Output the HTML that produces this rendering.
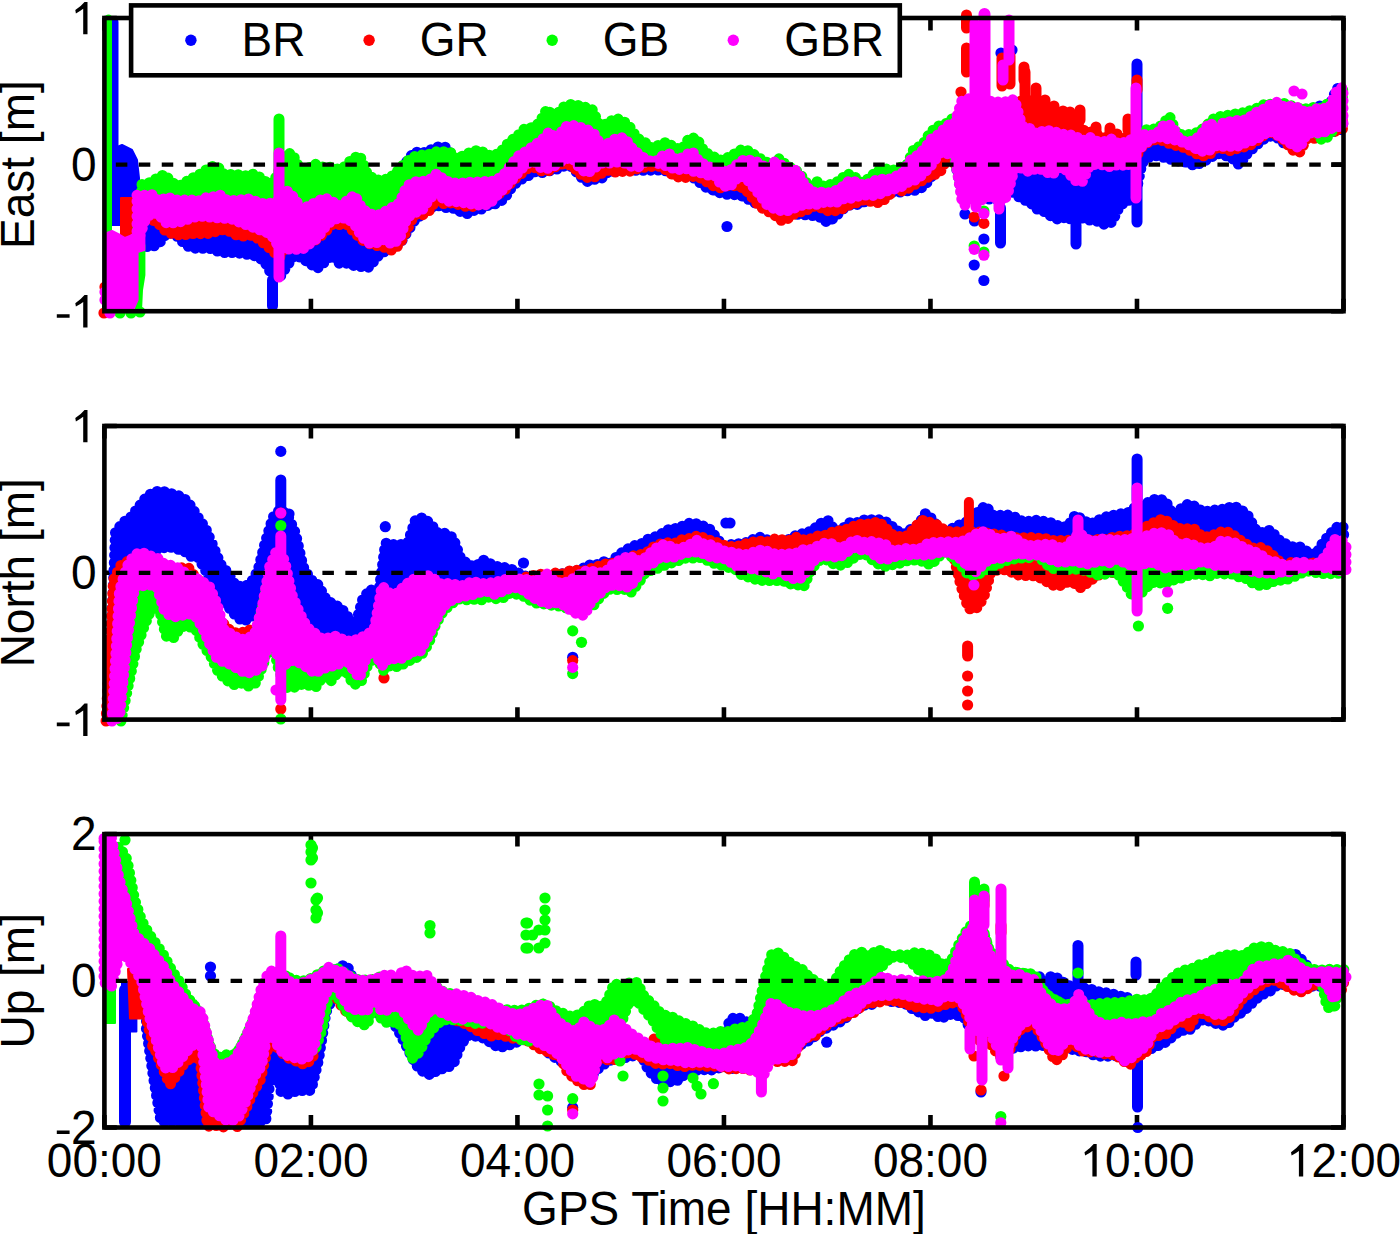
<!DOCTYPE html>
<html><head><meta charset="utf-8"><style>
html,body{margin:0;padding:0;background:#fff;overflow:hidden;width:1400px;height:1234px;}
svg{display:block;}
text{font-family:"Liberation Sans",sans-serif;font-size:46px;fill:#000;}
</style></head><body>
<svg width="1400" height="1234" viewBox="0 0 1400 1234">
<path d="M104.40 311.2V298.8M104.40 18.0V30.4M310.92 311.2V298.8M310.92 18.0V30.4M517.43 311.2V298.8M517.43 18.0V30.4M723.95 311.2V298.8M723.95 18.0V30.4M930.47 311.2V298.8M930.47 18.0V30.4M1136.98 311.2V298.8M1136.98 18.0V30.4M1343.50 311.2V298.8M1343.50 18.0V30.4M104.4 311.2H116.80000000000001M1343.5 311.2H1331.1M104.4 164.6H116.80000000000001M1343.5 164.6H1331.1M104.4 18.0H116.80000000000001M1343.5 18.0H1331.1" stroke="#000" stroke-width="4.6" fill="none"/>
<path d="M104.40 719.6V707.2M104.40 426.0V438.4M310.92 719.6V707.2M310.92 426.0V438.4M517.43 719.6V707.2M517.43 426.0V438.4M723.95 719.6V707.2M723.95 426.0V438.4M930.47 719.6V707.2M930.47 426.0V438.4M1136.98 719.6V707.2M1136.98 426.0V438.4M1343.50 719.6V707.2M1343.50 426.0V438.4M104.4 719.6H116.80000000000001M1343.5 719.6H1331.1M104.4 572.8H116.80000000000001M1343.5 572.8H1331.1M104.4 426.0H116.80000000000001M1343.5 426.0H1331.1" stroke="#000" stroke-width="4.6" fill="none"/>
<path d="M104.40 1127.5V1115.1M104.40 834.1V846.5M310.92 1127.5V1115.1M310.92 834.1V846.5M517.43 1127.5V1115.1M517.43 834.1V846.5M723.95 1127.5V1115.1M723.95 834.1V846.5M930.47 1127.5V1115.1M930.47 834.1V846.5M1136.98 1127.5V1115.1M1136.98 834.1V846.5M1343.50 1127.5V1115.1M1343.50 834.1V846.5M104.4 1127.5H116.80000000000001M1343.5 1127.5H1331.1M104.4 980.8H116.80000000000001M1343.5 980.8H1331.1M104.4 834.1H116.80000000000001M1343.5 834.1H1331.1" stroke="#000" stroke-width="4.6" fill="none"/>
<path d="M137 203.2L144.5 190.1L152 189.3L159.5 184.8L167 185L174.5 190.7L182 191L189.5 186.4L197 183.2L204.5 181.5L212 174L219.5 177.1L227 182.5L234.5 182.7L242 184.5L249.5 180.1L257 184.9L264.5 188.8L272 193.6L279.5 175.6L287 160.4L294.5 167.2L302 177L309.5 172.9L317 170.9L324.5 179.2L332 173.9L339.5 178.2L347 171.2L354.5 165.7L362 170.6L369.5 186.8L377 186.2L384.5 185L392 183.3L399.5 179.9L407 161L414.5 151.7L422 153.4L429.5 150.4L437 147.1L444.5 146.4L452 154.8L459.5 162.3L467 162.8L474.5 159.1L482 161.6L489.5 163.6L497 159.4L504.5 153.9L512 147.4L519.5 144.7L527 135.2L534.5 132.4L542 126L549.5 121.2L557 122.5L564.5 113.1L572 112.9L579.5 111.7L587 114.5L594.5 119.7L602 135L609.5 128.8L617 127.3L624.5 132.5L632 138.7L639.5 149.6L647 150.8L654.5 156.2L662 148.9L669.5 152L677 155L684.5 153.4L692 140.9L699.5 154.6L707 158.8L714.5 165.3L722 165.3L729.5 167.4L737 161.4L744.5 156L752 157.9L759.5 163.4L767 171.8L774.5 165.6L782 166.7L789.5 172.6L797 178.4L804.5 188L812 190.2L819.5 188.6L827 192.8L834.5 189.6L842 187.2L849.5 185.4L857 185.7L864.5 192L872 185L879.5 177.6L887 181.7L894.5 178.7L902 174L909.5 167.6L917 154.5L924.5 146.1L932 138.2L939.5 133.5L947 131.4L954.5 126L962 107.5L969.5 108.2L977 109.3L984.5 107.8L992 106.8L999.5 108.4L1007 107.3L1014.5 125.4L1022 134.9L1029.5 140.7L1037 144.8L1044.5 144L1052 145.7L1059.5 148.5L1067 150.4L1074.5 151.4L1082 153L1089.5 151.5L1097 153L1104.5 153.4L1112 154.8L1119.5 155.4L1127 152.8L1134.5 146.3L1142 141L1149.5 137.4L1157 134.6L1164.5 128.6L1172 131.8L1179.5 141.1L1187 141.3L1194.5 139.2L1202 137.7L1209.5 130.1L1217 125.8L1224.5 121.8L1232 122.3L1239.5 124L1247 122L1254.5 117L1262 115L1269.5 109.7L1277 112.1L1284.5 111.8L1292 112.1L1299.5 113.3L1307 110.7L1314.5 108.5L1322 104.9L1329.5 105.8L1337 88.1L1341 90.2L1343 128.9L1337 130.4L1329.5 132.7L1322 134.9L1314.5 133.5L1307 134.4L1299.5 148.4L1292 146.1L1284.5 143.6L1277 137.5L1269.5 136L1262 140.2L1254.5 146.9L1247 153.9L1239.5 165.1L1232 158.2L1224.5 155.1L1217 153.2L1209.5 158.5L1202 162.2L1194.5 165.7L1187 162.3L1179.5 161.2L1172 159.6L1164.5 157.6L1157 155.7L1149.5 156.9L1142 162.9L1134.5 200.1L1127 200.3L1119.5 206.3L1112 222.2L1104.5 224.4L1097 221.2L1089.5 220L1082 217.9L1074.5 222.6L1067 216.2L1059.5 219.9L1052 216.8L1044.5 211.7L1037 209L1029.5 201.8L1022 199.2L1014.5 193.4L1007 188.4L999.5 197.6L992 200.5L984.5 196.7L977 196.6L969.5 195.3L962 193.7L954.5 158.8L947 157.4L939.5 160.7L932 175.7L924.5 185.9L917 190.4L909.5 190.2L902 192.1L894.5 191.8L887 193.4L879.5 195.5L872 197.8L864.5 201.8L857 204.5L849.5 205.1L842 209.6L834.5 217.8L827 222.1L819.5 217L812 215.4L804.5 214.7L797 214.2L789.5 213.6L782 211.5L774.5 210.8L767 209.4L759.5 204.1L752 201.9L744.5 196.6L737 194.7L729.5 194.6L722 193.6L714.5 190.5L707 188L699.5 182.3L692 176.6L684.5 174.8L677 175.3L669.5 172.1L662 169.7L654.5 170.4L647 169.9L639.5 170.7L632 169.9L624.5 169.4L617 172L609.5 170.5L602 178L594.5 179.4L587 181.6L579.5 175.9L572 166.7L564.5 165.9L557 169L549.5 170.8L542 172.6L534.5 171.8L527 176.5L519.5 180.1L512 186.7L504.5 198.6L497 203.6L489.5 204.5L482 208.9L474.5 210.2L467 213.7L459.5 211.2L452 207.6L444.5 207.6L437 205.3L429.5 208.4L422 214.1L414.5 220.7L407 232.2L399.5 244.6L392 246L384.5 251.5L377 257L369.5 267.2L362 266.7L354.5 265.7L347 263.1L339.5 263.5L332 254.8L324.5 262.2L317 268.5L309.5 263.3L302 258.1L294.5 255L287 266L279.5 277.5L272 275L264.5 261.6L257 256.2L249.5 254.8L242 253.5L234.5 252.4L227 252.8L219.5 252L212 248.7L204.5 248.3L197 248.4L189.5 247.3L182 241.2L174.5 233.6L167 232.7L159.5 242.8L152 247.1L144.5 246.3L137 223.3Z" fill="#0000ff" stroke="#0000ff" stroke-width="11" stroke-linecap="round" stroke-linejoin="round" stroke-dasharray="0 7.5"/>
<path d="M110 150L122 145L132 150L137 160L139 178L139 225L110 225Z" fill="#0000ff" stroke="#0000ff" stroke-width="2" stroke-linejoin="round"/>
<line x1="113" y1="22" x2="113" y2="150" stroke="#0000ff" stroke-width="11" stroke-linecap="round"/>
<line x1="272.5" y1="280" x2="272.5" y2="306" stroke="#0000ff" stroke-width="11" stroke-linecap="round"/>
<line x1="1137" y1="64" x2="1137" y2="222" stroke="#0000ff" stroke-width="11" stroke-linecap="round"/>
<line x1="1000.5" y1="208" x2="1000.5" y2="243" stroke="#0000ff" stroke-width="11" stroke-linecap="round"/>
<line x1="1076" y1="225" x2="1076" y2="244" stroke="#0000ff" stroke-width="11" stroke-linecap="round"/>
<g fill="#0000ff"><circle cx="965" cy="214" r="5.6"/><circle cx="974.5" cy="221" r="5.6"/><circle cx="983.9" cy="239" r="5.6"/><circle cx="974.2" cy="265" r="5.6"/><circle cx="983.9" cy="280.5" r="5.6"/><circle cx="727" cy="226.5" r="5.6"/><circle cx="1001" cy="53" r="5.6"/><circle cx="1012" cy="50" r="5.6"/></g>
<path d="M137 199.9L144.5 189.6L152 186.6L159.5 184.6L167 182.4L174.5 190.5L182 189.8L189.5 184.3L197 180.8L204.5 178.4L212 172.5L219.5 178.1L227 179.9L234.5 180.5L242 181.1L249.5 179L257 179.1L264.5 186.1L272 192L279.5 174.9L287 156.9L294.5 166L302 174.2L309.5 174L317 169L324.5 176.1L332 170.2L339.5 176.9L347 172.4L354.5 160.3L362 166.9L369.5 181.7L377 186.6L384.5 183.6L392 183.6L399.5 175.2L407 166.5L414.5 160.7L422 160.9L429.5 158.9L437 157.1L444.5 157.1L452 160.4L459.5 162.5L467 157.4L474.5 159.1L482 159.1L489.5 162.4L497 159.8L504.5 150L512 143.6L519.5 141.5L527 133L534.5 131.2L542 122.4L549.5 118.5L557 122.4L564.5 114L572 112.7L579.5 110.3L587 112.5L594.5 117.6L602 130.6L609.5 128.3L617 123.9L624.5 127.7L632 133.9L639.5 147.2L647 150.1L654.5 153.5L662 144.4L669.5 148.9L677 153.8L684.5 152.3L692 141.4L699.5 150.3L707 158.9L714.5 163.1L722 165.8L729.5 163.2L737 160.5L744.5 155L752 156.2L759.5 160.9L767 167.4L774.5 165L782 164.2L789.5 173.3L797 177L804.5 186L812 190.2L819.5 187L827 191.9L834.5 189.9L842 182.8L849.5 183.4L857 184.7L864.5 191.8L872 182.7L879.5 173.2L887 176.6L894.5 176.4L902 171.3L909.5 162.7L917 154.3L924.5 145L932 136.9L939.5 131.3L947 126.7L954.5 122.4L962 108.2L969.5 105.1L977 107.3L984.5 106.8L992 107L999.5 108.3L1007 105.5L1014.5 106.4L1022 100L1029.5 99.7L1037 104.7L1044.5 109.9L1052 112.7L1059.5 120L1067 122.1L1074.5 120.9L1082 129.8L1089.5 131.2L1097 135L1104.5 137.7L1112 141.1L1119.5 139.2L1127 136.8L1134.5 140.4L1142 139.3L1149.5 133L1157 133.6L1164.5 124L1172 129.1L1179.5 140.8L1187 140.5L1194.5 138.8L1202 134.5L1209.5 127.3L1217 126L1224.5 122.5L1232 121.6L1239.5 120.5L1247 120.5L1254.5 114.9L1262 110.2L1269.5 109.1L1277 108.9L1284.5 110.2L1292 112.1L1299.5 113.7L1307 114.8L1314.5 115.4L1322 115.2L1329.5 108.6L1337 95.4L1341 94.6L1343 128.6L1337 130.8L1329.5 132.7L1322 134L1314.5 138.3L1307 138.6L1299.5 152.5L1292 149.8L1284.5 140.7L1277 135.2L1269.5 132.5L1262 136.5L1254.5 142.9L1247 146.7L1239.5 147.3L1232 151.2L1224.5 149L1217 147.2L1209.5 154.5L1202 156.2L1194.5 152.9L1187 148.6L1179.5 146L1172 144.9L1164.5 141L1157 139.2L1149.5 141.2L1142 147.1L1134.5 158.9L1127 159L1119.5 160.7L1112 162.3L1104.5 162.1L1097 158.6L1089.5 159.1L1082 161.2L1074.5 161.1L1067 161.5L1059.5 159.7L1052 160.7L1044.5 160.1L1037 159.7L1029.5 159.4L1022 162L1014.5 160.9L1007 171.1L999.5 170.1L992 168.7L984.5 169.3L977 168.7L969.5 168.2L962 167.5L954.5 163.5L947 158.7L939.5 173.3L932 174.9L924.5 179.4L917 183L909.5 187.9L902 191L894.5 188.8L887 197.7L879.5 202.7L872 201.8L864.5 199.6L857 202.5L849.5 204.8L842 209L834.5 210.9L827 210.7L819.5 207L812 206.1L804.5 211.9L797 211.8L789.5 217.8L782 221L774.5 215L767 210.8L759.5 206.6L752 197.3L744.5 188.2L737 186.2L729.5 184.7L722 188.3L714.5 186.4L707 182L699.5 177.5L692 176.2L684.5 177.7L677 176.8L669.5 173L662 166.5L654.5 166.1L647 167L639.5 167.7L632 171.3L624.5 171L617 172.7L609.5 169.8L602 173.1L594.5 177L587 177.4L579.5 173.7L572 165.7L564.5 163.3L557 165.7L549.5 170.5L542 171L534.5 167.6L527 168.9L519.5 175L512 181.6L504.5 190.5L497 194.9L489.5 200.8L482 203.4L474.5 206.4L467 206.7L459.5 204.9L452 202.7L444.5 204.2L437 198.7L429.5 210.3L422 215.2L414.5 214.4L407 229.9L399.5 244.7L392 250.3L384.5 247.4L377 245.5L369.5 243.7L362 239.9L354.5 232.3L347 224.7L339.5 224.6L332 224.6L324.5 232.7L317 239.4L309.5 242.3L302 239L294.5 241.4L287 244.4L279.5 257.3L272 250L264.5 243.7L257 237.8L249.5 234.7L242 236.4L234.5 234.4L227 229.8L219.5 229.9L212 233L204.5 233.8L197 233.6L189.5 233.4L182 235.6L174.5 234L167 232.4L159.5 224.5L152 219.6L144.5 218.7L137 217.1Z" fill="#ff0000" stroke="#ff0000" stroke-width="11" stroke-linecap="round" stroke-linejoin="round" stroke-dasharray="0 7.5"/>
<path d="M121 198L136.5 198L136.5 239L121 239Z" fill="#ff0000" stroke="#ff0000" stroke-width="2" stroke-linejoin="round"/>
<line x1="966.5" y1="15" x2="966.5" y2="28" stroke="#ff0000" stroke-width="11" stroke-linecap="round"/>
<line x1="966.5" y1="48" x2="966.5" y2="72" stroke="#ff0000" stroke-width="11" stroke-linecap="round"/>
<line x1="1002" y1="58" x2="1002" y2="86" stroke="#ff0000" stroke-width="11" stroke-linecap="round"/>
<line x1="1010" y1="56" x2="1010" y2="84" stroke="#ff0000" stroke-width="11" stroke-linecap="round"/>
<line x1="1024" y1="67" x2="1024" y2="80" stroke="#ff0000" stroke-width="11" stroke-linecap="round"/>
<line x1="1025" y1="72" x2="1025" y2="100" stroke="#ff0000" stroke-width="11" stroke-linecap="round"/>
<line x1="1036" y1="88" x2="1036" y2="105" stroke="#ff0000" stroke-width="11" stroke-linecap="round"/>
<line x1="1054" y1="106" x2="1054" y2="115" stroke="#ff0000" stroke-width="11" stroke-linecap="round"/>
<line x1="1063" y1="111" x2="1063" y2="120" stroke="#ff0000" stroke-width="11" stroke-linecap="round"/>
<line x1="1080" y1="110" x2="1080" y2="120" stroke="#ff0000" stroke-width="11" stroke-linecap="round"/>
<line x1="1096" y1="127" x2="1096" y2="132" stroke="#ff0000" stroke-width="11" stroke-linecap="round"/>
<line x1="1128" y1="119" x2="1128" y2="130" stroke="#ff0000" stroke-width="11" stroke-linecap="round"/>
<line x1="1045" y1="100" x2="1045" y2="110" stroke="#ff0000" stroke-width="11" stroke-linecap="round"/>
<line x1="1070" y1="112" x2="1070" y2="120" stroke="#ff0000" stroke-width="11" stroke-linecap="round"/>
<line x1="1110" y1="128" x2="1110" y2="135" stroke="#ff0000" stroke-width="11" stroke-linecap="round"/>
<line x1="1117" y1="134" x2="1117" y2="138" stroke="#ff0000" stroke-width="11" stroke-linecap="round"/>
<line x1="1137" y1="80" x2="1137" y2="90" stroke="#ff0000" stroke-width="11" stroke-linecap="round"/>
<g fill="#ff0000"><circle cx="983.9" cy="181" r="5.6"/><circle cx="974.2" cy="217" r="5.6"/><circle cx="983.9" cy="223.4" r="5.6"/><circle cx="961" cy="92" r="5.6"/><circle cx="105" cy="287" r="5.6"/><circle cx="104" cy="313" r="5.6"/></g>
<path d="M142 184.4L149.5 182.6L157 178.3L164.5 174.3L172 182.6L179.5 185.6L187 181.2L194.5 177L202 173.1L209.5 167.1L217 165.8L224.5 174.8L232 174.4L239.5 174.7L247 175.9L254.5 173.8L262 178.7L269.5 184.9L277 176.1L284.5 154.6L292 153.1L299.5 168.6L307 169.1L314.5 163.8L322 167L329.5 167L337 169L344.5 166.7L352 159.1L359.5 155.2L367 173.1L374.5 179.8L382 180.4L389.5 178.3L397 171.5L404.5 163.7L412 157.3L419.5 155.1L427 155.1L434.5 151.8L442 151.7L449.5 151.5L457 159.2L464.5 154.8L472 151.6L479.5 149.8L487 154.9L494.5 155.7L502 150.4L509.5 141.7L517 136.4L524.5 128.8L532 127.5L539.5 123L547 108.8L554.5 118.2L562 107.8L569.5 104.3L577 105.2L584.5 107.1L592 109.3L599.5 124.9L607 124.2L614.5 118.3L622 119.8L629.5 126.5L637 138.1L644.5 142L652 148.1L659.5 144.9L667 142L674.5 148L682 149.4L689.5 137.4L697 138.7L704.5 152.2L712 155.5L719.5 160.5L727 158L734.5 153.9L742 149.3L749.5 151L757 156.8L764.5 161.2L772 164.9L779.5 158.3L787 166.1L794.5 168.9L802 176.5L809.5 187L817 181.6L824.5 186.7L832 183.9L839.5 180.9L847 173.5L854.5 176.8L862 182.8L869.5 178L877 170.7L884.5 168.6L892 170.6L899.5 167.8L907 164.8L914.5 147.8L922 145.9L929.5 133.6L937 126.3L944.5 124.7L952 118.9L959.5 114.6L967 114.8L974.5 117.3L982 117.1L989.5 113.9L997 116.7L1004.5 113.8L1012 115L1019.5 125.7L1027 135.4L1034.5 133.2L1042 136.3L1049.5 137.6L1057 140.5L1064.5 142.7L1072 142.6L1079.5 145.2L1087 145.9L1094.5 143.6L1102 143.9L1109.5 145.3L1117 147.3L1124.5 146.2L1132 143.4L1139.5 137L1147 129.2L1154.5 129L1162 125.2L1169.5 116.1L1177 134.2L1184.5 134.9L1192 134.4L1199.5 131.6L1207 125L1214.5 118L1222 116L1229.5 115L1237 113.7L1244.5 112.6L1252 109.9L1259.5 107.2L1267 102.9L1274.5 105.9L1282 102.8L1289.5 105.2L1297 107.6L1304.5 109L1312 107.2L1319.5 108.9L1327 104.1L1334.5 101.2L1342 90.1L1343 90.1L1341 119.3L1337 122.6L1329.5 135.9L1322 140.2L1314.5 130.4L1307 130.9L1299.5 139.7L1292 138.2L1284.5 130.7L1277 126.8L1269.5 123L1262 126.8L1254.5 134.1L1247 136.2L1239.5 137.4L1232 140.1L1224.5 140.3L1217 141.4L1209.5 146.2L1202 143.4L1194.5 143.6L1187 140.8L1179.5 137.1L1172 133.2L1164.5 130.1L1157 130.6L1149.5 133.5L1142 138.8L1134.5 147.6L1127 159.8L1119.5 159.3L1112 161.2L1104.5 158.4L1097 155.7L1089.5 161.7L1082 175.2L1074.5 171.5L1067 161.3L1059.5 161.8L1052 168L1044.5 164.9L1037 162.5L1029.5 163.1L1022 160.7L1014.5 163.8L1007 185.5L999.5 198.8L992 189.8L984.5 190.4L977 195L969.5 196.8L962 193.9L954.5 157.3L947 147L939.5 147.5L932 158.3L924.5 165L917 170.7L909.5 176.1L902 180.7L894.5 181.5L887 182.4L879.5 185.5L872 189.7L864.5 190.5L857 189.8L849.5 192.1L842 195L834.5 197L827 196.3L819.5 198.4L812 195.3L804.5 198.8L797 201.8L789.5 206.6L782 205.7L774.5 201.1L767 196L759.5 188.2L752 181.1L744.5 172.5L737 174.5L729.5 184L722 176.4L714.5 167.9L707 169.4L699.5 164.4L692 165.2L684.5 161.9L677 161.5L669.5 160.8L662 155.9L654.5 153.6L647 155.6L639.5 159.6L632 158.9L624.5 157L617 156.2L609.5 160L602 159.7L594.5 159.9L587 165.2L579.5 161.3L572 153.8L564.5 152.3L557 158L549.5 163.2L542 163.6L534.5 157.2L527 158.1L519.5 163.7L512 174.2L504.5 180.8L497 192.4L489.5 195.7L482 199.8L474.5 196.7L467 198.3L459.5 199.1L452 199L444.5 193.2L437 186.9L429.5 193L422 202.1L414.5 206.4L407 215.9L399.5 233.4L392 236.5L384.5 235.5L377 236.6L369.5 237.3L362 227.4L354.5 219.5L347 213L339.5 212.6L332 215L324.5 220L317 230.3L309.5 240L302 241.9L294.5 245.4L287 241.3L279.5 239.8L272 230.4L264.5 224.5L257 221.8L249.5 220.1L242 216.7L234.5 216.6L227 212.7L219.5 215.1L212 211L204.5 212.5L197 210.6L189.5 214.3L182 217.6L174.5 218.2L167 215.7L159.5 210.8L152 208.3L144.5 218.5L137 238.3Z" fill="#00ff00" stroke="#00ff00" stroke-width="11" stroke-linecap="round" stroke-linejoin="round" stroke-dasharray="0 7.5"/>
<path d="M137 245L144.4 245L144.4 275L142 290L141 311L136 311Z" fill="#00ff00" stroke="#00ff00" stroke-width="2" stroke-linejoin="round"/>
<line x1="108.5" y1="18" x2="108.5" y2="311" stroke="#00ff00" stroke-width="7" stroke-linecap="round"/>
<line x1="279" y1="119" x2="279" y2="200" stroke="#00ff00" stroke-width="11" stroke-linecap="round"/>
<g fill="#00ff00"><circle cx="120" cy="313" r="5.6"/><circle cx="131" cy="313" r="5.6"/><circle cx="140" cy="312" r="5.6"/><circle cx="974.2" cy="246" r="5.6"/><circle cx="983.9" cy="252" r="5.6"/><circle cx="983.9" cy="211" r="5.6"/></g>
<path d="M137 195.3L144.5 195.2L152 194.7L159.5 201.6L167 196.6L174.5 199.9L182 200.4L189.5 199.3L197 201.6L204.5 198L212 197.2L219.5 194.7L227 200.2L234.5 200.4L242 199.6L249.5 198.8L257 201.8L264.5 204L272 203.1L279.5 200.8L287 191L294.5 198L302 210.1L309.5 205.1L317 201.9L324.5 197.7L332 201.4L339.5 205.8L347 200.8L354.5 194.9L362 208.5L369.5 213.8L377 215.7L384.5 211.9L392 207.6L399.5 203L407 185.8L414.5 181.7L422 181.4L429.5 179.9L437 173.4L444.5 180.5L452 182.7L459.5 183.7L467 182.1L474.5 182.5L482 181.4L489.5 181.9L497 179.8L504.5 173.8L512 163.6L519.5 154.9L527 150.8L534.5 145.3L542 140L549.5 131.5L557 139.7L564.5 127L572 125.1L579.5 127.2L587 129.4L594.5 134.3L602 147L609.5 142.5L617 137.8L624.5 137.8L632 148.2L639.5 154.8L647 160.1L654.5 162.4L662 156.2L669.5 153.9L677 160.3L684.5 156.4L692 151L699.5 162.2L707 165.3L714.5 170L722 170.9L729.5 171L737 164.4L744.5 159.3L752 160.6L759.5 162.8L767 169L774.5 162L782 165.4L789.5 167.8L797 171L804.5 184.6L812 192.2L819.5 191.8L827 193.3L834.5 191.1L842 187.2L849.5 180.5L857 182.1L864.5 185.9L872 181.9L879.5 178.7L887 180.1L894.5 176.8L902 173.8L909.5 160.8L917 155.6L924.5 148.9L932 138.1L939.5 134L947 125.4L954.5 124L962 100.5L969.5 98.6L977 99.8L984.5 101.9L992 101.1L999.5 102.3L1007 101.6L1014.5 99.3L1022 125.8L1029.5 128.3L1037 134.2L1044.5 130L1052 131.1L1059.5 133.3L1067 135.1L1074.5 135.1L1082 141L1089.5 137.1L1097 141.2L1104.5 141.6L1112 138.8L1119.5 144.6L1127 140.9L1134.5 138.5L1142 134.1L1149.5 135.5L1157 133.4L1164.5 124.5L1172 125.6L1179.5 139.7L1187 141.9L1194.5 140.5L1202 133.4L1209.5 122.5L1217 128.8L1224.5 121.7L1232 121.7L1239.5 120L1247 119.9L1254.5 112.9L1262 110.2L1269.5 105.3L1277 102.2L1284.5 107.2L1292 106L1299.5 108.2L1307 113.7L1314.5 108.8L1322 108.9L1329.5 107.8L1337 90.1L1343 87.2L1343 126.4L1337 126.6L1329.5 129L1322 133.4L1314.5 132.6L1307 133.3L1299.5 148.1L1292 144.5L1284.5 139.1L1277 134.7L1269.5 130.6L1262 135.9L1254.5 139.8L1247 142L1239.5 145.9L1232 146.2L1224.5 146.5L1217 145.1L1209.5 150.3L1202 151.2L1194.5 148L1187 143.6L1179.5 141.2L1172 139.2L1164.5 138.3L1157 136L1149.5 139.8L1142 146.5L1134.5 152.3L1127 167.2L1119.5 163.4L1112 167.3L1104.5 165.2L1097 163.9L1089.5 165.7L1082 182.2L1074.5 180.2L1067 170.5L1059.5 167.1L1052 174.9L1044.5 170.7L1037 167.6L1029.5 172.1L1022 168.1L1014.5 168.1L1007 196.4L999.5 202.6L992 194.8L984.5 198.8L977 201.4L969.5 198.9L962 200.6L954.5 154.3L947 153.6L939.5 153.1L932 164.5L924.5 172.5L917 179.6L909.5 181.1L902 186.3L894.5 188.9L887 190.9L879.5 194.1L872 195.6L864.5 195L857 196.4L849.5 198.7L842 198.9L834.5 203.7L827 200.6L819.5 204.5L812 203.9L804.5 204.3L797 206.9L789.5 210.5L782 210.8L774.5 208.9L767 204.6L759.5 194.5L752 185.2L744.5 176.1L737 178.1L729.5 187.1L722 185.5L714.5 175.2L707 175L699.5 172.3L692 171.1L684.5 167.9L677 170.1L669.5 166.7L662 164.5L654.5 162.4L647 160.1L639.5 166.7L632 166.5L624.5 163L617 162.1L609.5 163L602 163.1L594.5 167.9L587 173.5L579.5 167.6L572 157.6L564.5 158.9L557 164.5L549.5 168.2L542 168.6L534.5 161.8L527 163.5L519.5 170.8L512 180L504.5 187.8L497 195.2L489.5 204L482 205.4L474.5 204.3L467 203.6L459.5 201.5L452 201.9L444.5 200.1L437 192.3L429.5 198.8L422 210.2L414.5 212.8L407 217.4L399.5 238.7L392 244.4L384.5 239.4L377 242.6L369.5 243.2L362 236.9L354.5 224.1L347 218.1L339.5 217.9L332 220L324.5 227.7L317 238.4L309.5 243.9L302 249.5L294.5 249.2L287 249.1L279.5 248L272 235.9L264.5 231L257 229.2L249.5 225.5L242 223.7L234.5 219.5L227 218.4L219.5 217.9L212 217.5L204.5 216.2L197 216.4L189.5 218.6L182 221.4L174.5 222.6L167 223.6L159.5 215.6L152 211.8L144.5 221.6L137 244.4Z" fill="#ff00ff" stroke="#ff00ff" stroke-width="11" stroke-linecap="round" stroke-linejoin="round" stroke-dasharray="0 7.5"/>
<path d="M107 233L112 231L120 235L125 238L130 236L136 232L141 222L144.4 220L144.4 250L137.6 252L137.6 300L134 308L107 309Z" fill="#ff00ff" stroke="#ff00ff" stroke-width="2" stroke-linejoin="round"/>
<line x1="279" y1="153" x2="279" y2="277" stroke="#ff00ff" stroke-width="11" stroke-linecap="round"/>
<line x1="984.5" y1="14" x2="984.5" y2="100" stroke="#ff00ff" stroke-width="12" stroke-linecap="round"/>
<line x1="974.5" y1="23" x2="974.5" y2="100" stroke="#ff00ff" stroke-width="10" stroke-linecap="round"/>
<line x1="1009" y1="20" x2="1009" y2="60" stroke="#ff00ff" stroke-width="11" stroke-linecap="round"/>
<line x1="1003" y1="65" x2="1003" y2="80" stroke="#ff00ff" stroke-width="11" stroke-linecap="round"/>
<line x1="1136" y1="88" x2="1136" y2="198" stroke="#ff00ff" stroke-width="11" stroke-linecap="round"/>
<line x1="965" y1="160" x2="965" y2="205" stroke="#ff00ff" stroke-width="11" stroke-linecap="round"/>
<line x1="976" y1="160" x2="976" y2="207" stroke="#ff00ff" stroke-width="11" stroke-linecap="round"/>
<line x1="999" y1="160" x2="999" y2="209" stroke="#ff00ff" stroke-width="11" stroke-linecap="round"/>
<g fill="#ff00ff"><circle cx="110" cy="313" r="5.6"/><circle cx="105" cy="292" r="5.6"/><circle cx="105" cy="300" r="5.6"/><circle cx="983.9" cy="213.7" r="5.6"/><circle cx="974.2" cy="249.3" r="5.6"/><circle cx="983.9" cy="255.2" r="5.6"/><circle cx="1294" cy="91" r="5.6"/><circle cx="1302" cy="94" r="5.6"/></g>
<path d="M108 720L115.5 532.1L123 522.5L130.5 517.5L138 507.8L145.5 498.1L153 492.2L160.5 490.7L168 492.7L175.5 494.9L183 497.1L190.5 505.5L198 517.3L205.5 528.2L213 545.9L220.5 564L228 573L235.5 585.6L243 586.9L250.5 583.6L258 570.4L265.5 541.4L273 517.3L280.5 508.9L288 516.2L295.5 533.3L303 566.5L310.5 579.2L318 584.7L325.5 598.3L333 604.5L340.5 607.3L348 617L355.5 624.9L363 598.3L370.5 589L378 598.5L385.5 543L393 544.6L400.5 544.6L408 542.3L415.5 519.7L423 517.5L430.5 523.6L438 533.2L445.5 533.3L453 537.6L460.5 557.9L468 564.4L475.5 566.9L483 559.8L490.5 563.8L498 566.8L505.5 567.7L513 569.8L520.5 574L528 576.9L535.5 577L543 575.1L550.5 575.7L558 575.6L565.5 572.2L573 571.1L580.5 570.2L588 564.8L595.5 565.2L603 561.5L610.5 563.6L618 555.1L625.5 550.3L633 546L640.5 544.3L648 539.2L655.5 536.7L663 533.1L670.5 528.3L678 528.6L685.5 524.3L693 522.3L700.5 525.4L708 527.1L715.5 536.4L723 546.3L730.5 544.7L738 543.8L745.5 542.8L753 539.5L760.5 537.2L768 540.2L775.5 542.4L783 541.6L790.5 538.9L798 533.9L805.5 533.8L813 529.7L820.5 523.4L828 520.5L835.5 531.4L843 528.2L850.5 522.2L858 522.6L865.5 519.4L873 519.7L880.5 519.9L888 522.7L895.5 529.5L903 534.5L910.5 529.4L918 525.4L925.5 513.4L933 519.7L940.5 532.1L948 531L955.5 526.4L963 523.6L970.5 519.8L978 511.8L985.5 505.6L993 515.1L1000.5 515.3L1008 515.1L1015.5 517.3L1023 521.7L1030.5 521.2L1038 520L1045.5 521.8L1053 523.1L1060.5 527L1068 526.4L1075.5 514.5L1083 520.2L1090.5 524.1L1098 520.2L1105.5 517L1113 515.4L1120.5 513.7L1128 512.6L1135.5 507L1143 506.1L1150.5 500.5L1158 498.5L1165.5 501L1173 514.9L1180.5 509L1188 504L1195.5 506.5L1203 511.9L1210.5 510.9L1218 509.5L1225.5 509.2L1233 505.8L1240.5 509L1248 515.8L1255.5 529.2L1263 532.8L1270.5 529.8L1278 539.2L1285.5 543.8L1293 546.9L1300.5 547L1308 552.1L1315.5 554.8L1323 542.5L1330.5 533.6L1338 526.2L1343 526.2L1344 538.5L1338 534L1330.5 547.8L1323 554.1L1315.5 562.4L1308 558.8L1300.5 557.2L1293 560.5L1285.5 562.1L1278 559.1L1270.5 557.8L1263 554.8L1255.5 547.7L1248 548L1240.5 543.8L1233 539.7L1225.5 537.3L1218 542.4L1210.5 547L1203 547.4L1195.5 544.1L1188 540.1L1180.5 542L1173 538L1165.5 528.9L1158 528.9L1150.5 534.1L1143 533.7L1135.5 535.5L1128 539.3L1120.5 536.1L1113 538.3L1105.5 537.7L1098 539.2L1090.5 537.5L1083 535.5L1075.5 530L1068 543.2L1060.5 543.4L1053 539.5L1045.5 540.2L1038 543.4L1030.5 541.4L1023 540.4L1015.5 537.3L1008 533.6L1000.5 534.2L993 535.4L985.5 526.6L978 530.9L970.5 533.7L963 535.2L955.5 539.9L948 539.4L940.5 538.5L933 538L925.5 542.2L918 543.8L910.5 544.7L903 548.6L895.5 548.5L888 540.9L880.5 538.7L873 538.4L865.5 536.4L858 537.8L850.5 538L843 540.9L835.5 545L828 532.2L820.5 542.4L813 546.3L805.5 548.5L798 547.4L790.5 550.4L783 549.1L775.5 549.3L768 546.6L760.5 545.8L753 549.4L745.5 549.3L738 549.9L730.5 551.3L723 548.2L715.5 543.4L708 540.9L700.5 538.1L693 539.3L685.5 545.3L678 548.9L670.5 545.2L663 541.9L655.5 548L648 550.8L640.5 559.5L633 554.7L625.5 553.1L618 559L610.5 563.9L603 569.3L595.5 568.7L588 567.9L580.5 572.8L573 576.9L565.5 580L558 578.4L550.5 575.7L543 575.1L535.5 577L528 578.1L520.5 577.2L513 575.2L505.5 578.1L498 578.4L490.5 580.7L483 578.8L475.5 575.1L468 579.5L460.5 584.2L453 579.2L445.5 580L438 578.8L430.5 575L423 573.3L415.5 574.8L408 579.2L400.5 586L393 589.9L385.5 582.6L378 608.6L370.5 630.1L363 631.6L355.5 636.2L348 639.9L340.5 636L333 633.9L325.5 635.4L318 634.1L310.5 627.6L303 618.9L295.5 598.9L288 579L280.5 547L273 557.5L265.5 579.7L258 611L250.5 617.6L243 621.7L235.5 615.5L228 606.5L220.5 597.7L213 586.6L205.5 570.2L198 557.1L190.5 556.3L183 550.1L175.5 548.9L168 546.2L160.5 549.1L153 550L145.5 553L138 547.3L130.5 555.9L123 575.3L115.5 641.1L108 720Z" fill="#0000ff" stroke="#0000ff" stroke-width="11" stroke-linecap="round" stroke-linejoin="round" stroke-dasharray="0 7.5"/>
<line x1="280.8" y1="480" x2="280.8" y2="520" stroke="#0000ff" stroke-width="11" stroke-linecap="round"/>
<line x1="1137.1" y1="459" x2="1137.1" y2="500" stroke="#0000ff" stroke-width="11" stroke-linecap="round"/>
<g fill="#0000ff"><circle cx="280.8" cy="451.4" r="5.6"/><circle cx="289" cy="514" r="5.6"/><circle cx="725.9" cy="523" r="5.6"/><circle cx="730" cy="523" r="5.6"/><circle cx="385.3" cy="526.7" r="5.6"/><circle cx="523.5" cy="563" r="5.6"/><circle cx="572.7" cy="657.3" r="5.6"/><circle cx="170" cy="538" r="5.6"/><circle cx="152" cy="538" r="5.6"/></g>
<path d="M106 721L113.5 579.9L121 565.2L128.5 560.8L136 559.8L143.5 560.1L151 563.6L158.5 565.6L166 567.9L173.5 573.5L181 567.8L188.5 567.7L196 578L203.5 584L211 591.6L218.5 616.3L226 627L233.5 632.5L241 633.2L248.5 629.6L256 633.2L263.5 603.7L271 569.2L278.5 557.5L286 578.2L293.5 602.6L301 624.8L308.5 636.6L316 642.5L323.5 645.6L331 645.3L338.5 644.9L346 647.9L353.5 644.4L361 643.3L368.5 642.6L376 630.1L383.5 592.3L391 599.7L398.5 596.8L406 591.9L413.5 586.8L421 582.3L428.5 581.9L436 589L443.5 589.7L451 588.4L458.5 593L466 588.5L473.5 587.1L481 585.9L488.5 589L496 588.8L503.5 587.1L511 581.4L518.5 582.9L526 577.1L533.5 575.6L541 574.2L548.5 575.3L556 572.8L563.5 573.9L571 570.2L578.5 570.4L586 571L593.5 567.4L601 565.7L608.5 562.9L616 563.4L623.5 560.8L631 556.2L638.5 555L646 553.2L653.5 547L661 543.7L668.5 542.7L676 543.1L683.5 538.7L691 538.5L698.5 535.3L706 539.1L713.5 541.2L721 544.3L728.5 546.4L736 546.9L743.5 544.2L751 542.6L758.5 540.8L766 542.4L773.5 539L781 539.5L788.5 540.6L796 537.3L803.5 539.7L811 538.7L818.5 535.7L826 535.1L833.5 531.4L841 530.4L848.5 528.8L856 525.1L863.5 523.7L871 524L878.5 521.4L886 528.4L893.5 535.5L901 536.9L908.5 535.3L916 525.9L923.5 519.8L931 522.9L938.5 525.3L946 531.3L953.5 532L961 531.5L968.5 531.6L976 532.1L983.5 532L991 534L998.5 534.2L1006 536.4L1013.5 537.5L1021 537.9L1028.5 537.2L1036 538.2L1043.5 538L1051 540.2L1058.5 540.9L1066 539.9L1073.5 541.2L1081 539.1L1088.5 540.4L1096 539.3L1103.5 540.1L1111 537.6L1118.5 536.3L1126 535.9L1133.5 534.5L1141 530.5L1148.5 525.1L1156 521.5L1163.5 518.6L1171 524.4L1178.5 528.3L1186 528.9L1193.5 528.3L1201 535.5L1208.5 537L1216 534L1223.5 531L1231 533L1238.5 539.1L1246 543.9L1253.5 548.2L1261 547.5L1268.5 551.4L1276 558.1L1283.5 565.6L1291 562.5L1298.5 563.3L1306 563.7L1313.5 563.1L1321 563.6L1328.5 560L1336 543.2L1343.5 545.8L1346 549.6L1342 567.5L1336 563.9L1328.5 565.3L1321 563.6L1313.5 563.1L1306 564L1298.5 563.8L1291 566.3L1283.5 567.3L1276 570.6L1268.5 568.3L1261 572.1L1253.5 566.4L1246 566.7L1238.5 566.4L1231 561.3L1223.5 561.9L1216 561.1L1208.5 561.5L1201 558.1L1193.5 558.4L1186 561.3L1178.5 561.3L1171 565.4L1163.5 563.7L1156 560.8L1148.5 556.5L1141 560.7L1133.5 562.4L1126 558.7L1118.5 570.1L1111 573.2L1103.5 572L1096 576.8L1088.5 581.8L1081 587.9L1073.5 582.9L1066 582.2L1058.5 586.4L1051 584.7L1043.5 579.3L1036 576.1L1028.5 575.2L1021 576L1013.5 573L1006 569.9L998.5 569.7L991 572.1L983.5 598.1L976 608.8L968.5 608.8L961 586L953.5 555.8L946 548.2L938.5 547.3L931 548.8L923.5 553.1L916 552.7L908.5 552L901 553.9L893.5 554.7L886 553.8L878.5 553.3L871 548.3L863.5 544.8L856 544.5L848.5 548.5L841 551.3L833.5 553.7L826 548.1L818.5 553.3L811 559.7L803.5 572.6L796 575.3L788.5 572L781 569L773.5 570L766 567.6L758.5 565.3L751 566.4L743.5 565.4L736 560.2L728.5 557.3L721 556L713.5 553.9L706 553L698.5 546.4L691 547.2L683.5 550.2L676 553L668.5 555L661 556.3L653.5 558.4L646 564.9L638.5 571L631 583.4L623.5 580.7L616 583.5L608.5 585.2L601 586.9L593.5 592.8L586 605.8L578.5 614.9L571 608L563.5 599.6L556 597.9L548.5 600.5L541 599.6L533.5 594.5L526 589.6L518.5 585.4L511 587.2L503.5 587.3L496 590.4L488.5 589.5L481 589.3L473.5 590.4L466 593.8L458.5 592.2L451 597.2L443.5 602.6L436 618L428.5 632.2L421 644.2L413.5 649.5L406 652.9L398.5 659L391 651.6L383.5 663.7L376 651L368.5 652.1L361 667.3L353.5 668.9L346 656.7L338.5 658.9L331 662.3L323.5 665.7L316 670.2L308.5 665.7L301 660L293.5 656.4L286 657L278.5 655.8L271 629.7L263.5 656.3L256 665.1L248.5 669L241 669.9L233.5 663.5L226 658.4L218.5 655.6L211 642.7L203.5 626L196 613.3L188.5 611.5L181 608.7L173.5 613.7L166 609.7L158.5 587.3L151 580.4L143.5 581.8L136 582.5L128.5 610.9L121 689.6L113.5 713.6L106 721Z" fill="#ff0000" stroke="#ff0000" stroke-width="11" stroke-linecap="round" stroke-linejoin="round" stroke-dasharray="0 7.5"/>
<line x1="968.9" y1="502" x2="968.9" y2="525" stroke="#ff0000" stroke-width="10" stroke-linecap="round"/>
<line x1="967.6" y1="646" x2="967.6" y2="656" stroke="#ff0000" stroke-width="11" stroke-linecap="round"/>
<g fill="#ff0000"><circle cx="967.6" cy="676" r="5.6"/><circle cx="967.6" cy="691" r="5.6"/><circle cx="967.6" cy="705" r="5.6"/><circle cx="280.8" cy="691" r="5.6"/><circle cx="280.8" cy="709" r="5.6"/><circle cx="572.7" cy="660.6" r="5.6"/><circle cx="384" cy="678" r="5.6"/><circle cx="280.8" cy="513" r="5.6"/></g>
<path d="M121 721L128.5 568.8L136 558.4L143.5 559.1L151 561.5L158.5 563.6L166 568.3L173.5 570.2L181 574.2L188.5 580.3L196 584.4L203.5 588.5L211 594.2L218.5 620.1L226 637.2L233.5 643.2L241 644.1L248.5 643.8L256 635.7L263.5 603.2L271 568.5L278.5 558.3L286 577.3L293.5 603.4L301 623.2L308.5 637L316 640.5L323.5 642.9L331 643.2L338.5 643.3L346 647.9L353.5 643.4L361 643.5L368.5 642.4L376 628.1L383.5 591L391 600.7L398.5 598L406 593.2L413.5 585.7L421 582.9L428.5 583.1L436 586.8L443.5 588.2L451 590.2L458.5 591.7L466 588.4L473.5 586L481 589.4L488.5 589.3L496 587.6L503.5 586.2L511 584.2L518.5 583L526 587.4L533.5 586.2L541 582.6L548.5 582.4L556 585.2L563.5 588.9L571 586.4L578.5 582.2L586 579.6L593.5 575.8L601 577.1L608.5 574.4L616 570.3L623.5 561.8L631 562.8L638.5 565.2L646 561.9L653.5 557.6L661 550.8L668.5 554.5L676 557L683.5 554.5L691 552L698.5 549.3L706 548.4L713.5 553.2L721 557.2L728.5 560.4L736 561.3L743.5 558.1L751 557.8L758.5 558L766 555.7L773.5 556.5L781 559.3L788.5 557.5L796 556.2L803.5 556.9L811 555.8L818.5 553.3L826 547.4L833.5 551.7L841 551.3L848.5 550.6L856 545.2L863.5 547.4L871 545.6L878.5 548.2L886 549L893.5 556.9L901 555.6L908.5 557.3L916 554.8L923.5 552.5L931 547.5L938.5 549.1L946 549L953.5 548.6L961 547.2L968.5 544L976 541.2L983.5 536.7L991 542.7L998.5 545.9L1006 541.5L1013.5 545.3L1021 551.3L1028.5 550.5L1036 549.5L1043.5 549L1051 548.4L1058.5 552.2L1066 552.1L1073.5 545.6L1081 542.3L1088.5 547.6L1096 547.2L1103.5 546.8L1111 547.7L1118.5 546.5L1126 546.9L1133.5 543.4L1141 542.5L1148.5 542.2L1156 538.9L1163.5 536.3L1171 543.8L1178.5 552.8L1186 551.6L1193.5 551.1L1201 553.9L1208.5 554.6L1216 552.8L1223.5 546.9L1231 549.8L1238.5 552.4L1246 553.4L1253.5 559.1L1261 560.1L1268.5 566.9L1276 569.4L1283.5 571.5L1291 570.2L1298.5 569.5L1306 570.4L1313.5 569.3L1321 566.2L1328.5 556.8L1336 544L1343.5 548.4L1345 549.5L1341 573.2L1336 573.4L1328.5 573.8L1321 573.5L1313.5 572.1L1306 570.8L1298.5 574.5L1291 578.2L1283.5 580.2L1276 580.2L1268.5 584.1L1261 585.8L1253.5 583.6L1246 578.5L1238.5 576.8L1231 573.7L1223.5 574L1216 573.3L1208.5 576.4L1201 574.1L1193.5 574.3L1186 576L1178.5 579L1171 580.4L1163.5 584.5L1156 580.9L1148.5 585.7L1141 593.2L1133.5 597.8L1126 585.2L1118.5 574.9L1111 571.8L1103.5 574.8L1096 574.8L1088.5 571.4L1081 569.6L1073.5 569L1066 569.6L1058.5 569.2L1051 568.3L1043.5 561L1036 555.2L1028.5 557.8L1021 558L1013.5 559L1006 560.8L998.5 563.8L991 567.8L983.5 570.8L976 576L968.5 575.3L961 565.1L953.5 558.4L946 551.9L938.5 556.7L931 565.1L923.5 561.6L916 560L908.5 560.2L901 562.9L893.5 564.4L886 566.6L878.5 564.1L871 558.9L863.5 552.7L856 556.3L848.5 562.1L841 565.3L833.5 563.9L826 559.6L818.5 560.6L811 569.7L803.5 587.1L796 584.2L788.5 583.9L781 579.6L773.5 581.3L766 579.9L758.5 580.9L751 577.2L743.5 576.5L736 569.8L728.5 567.4L721 565L713.5 563.1L706 559.8L698.5 557L691 558.5L683.5 558L676 562L668.5 563.5L661 566.8L653.5 570L646 571.5L638.5 583.1L631 592.4L623.5 589L616 589.6L608.5 589.2L601 595.9L593.5 605.4L586 604.9L578.5 606.3L571 610.2L563.5 606.6L556 605.7L548.5 604.8L541 603.3L533.5 603L526 597L518.5 594.9L511 592.4L503.5 597.6L496 598.7L488.5 597.2L481 600L473.5 599.3L466 599.9L458.5 599L451 604.1L443.5 610.8L436 623.7L428.5 643.8L421 655.7L413.5 658.7L406 662.3L398.5 667L391 665L383.5 670.4L376 656.3L368.5 663L361 681.9L353.5 684.9L346 670.6L338.5 671.4L331 681L323.5 675.8L316 686.7L308.5 685.3L301 684.4L293.5 687.6L286 687.4L278.5 668.8L271 635.8L263.5 663.6L256 682.7L248.5 686L241 683L233.5 684.7L226 679.7L218.5 672.5L211 656.6L203.5 645.4L196 629.8L188.5 626.2L181 626.6L173.5 637.7L166 636.1L158.5 605.7L151 609.5L143.5 628.1L136 649.9L128.5 684.3L121 721Z" fill="#00ff00" stroke="#00ff00" stroke-width="11" stroke-linecap="round" stroke-linejoin="round" stroke-dasharray="0 7.5"/>
<g fill="#00ff00"><circle cx="280.8" cy="525.5" r="5.6"/><circle cx="572.7" cy="673.6" r="5.6"/><circle cx="1138.4" cy="626" r="5.6"/><circle cx="1167.6" cy="608.3" r="5.6"/><circle cx="280.8" cy="719" r="5.6"/><circle cx="581.5" cy="642.3" r="5.6"/><circle cx="572.7" cy="630.9" r="5.6"/></g>
<path d="M112 721L119.5 590.7L127 566.6L134.5 554.6L142 552.2L149.5 555.7L157 557.6L164.5 564.2L172 565.6L179.5 568.5L187 574.5L194.5 577.3L202 581.3L209.5 586.8L217 603.9L224.5 631.2L232 634L239.5 639.5L247 638.7L254.5 634.6L262 608L269.5 567L277 549.7L284.5 560.3L292 594.7L299.5 612.7L307 627.2L314.5 633L322 638.8L329.5 637.7L337 635.8L344.5 640.6L352 641.5L359.5 637.9L367 635.3L374.5 627.6L382 585.9L389.5 593.1L397 593.3L404.5 585.9L412 579.8L419.5 577.4L427 575.1L434.5 579.2L442 584.6L449.5 583.3L457 584.9L464.5 585.7L472 581L479.5 583.3L487 583.8L494.5 581.8L502 581.2L509.5 577.4L517 579.2L524.5 578.6L532 581.6L539.5 577.7L547 574.1L554.5 581.1L562 583.7L569.5 580.8L577 576.2L584.5 571.3L592 571.2L599.5 573.1L607 570.2L614.5 562.8L622 559.1L629.5 555.6L637 560.9L644.5 558.4L652 551.7L659.5 545.4L667 544.2L674.5 549.4L682 548L689.5 544.7L697 540.2L704.5 544.5L712 544.9L719.5 548.7L727 552.2L734.5 552.3L742 554.9L749.5 554L757 550.4L764.5 550L772 553.5L779.5 554.6L787 553.6L794.5 554L802 549.7L809.5 550.1L817 546.3L824.5 543.2L832 543.8L839.5 548.4L847 545.3L854.5 539.2L862 542.6L869.5 541.1L877 542.7L884.5 543.5L892 550.6L899.5 549.9L907 548.4L914.5 549.3L922 548L929.5 541.9L937 543.1L944.5 541.4L952 542.3L959.5 542.1L967 539.6L974.5 534.7L982 531.5L989.5 534L997 538.5L1004.5 538.2L1012 535.9L1019.5 541.4L1027 546L1034.5 544.8L1042 545.2L1049.5 543.3L1057 547L1064.5 548.4L1072 540.5L1079.5 533L1087 539.4L1094.5 541.2L1102 539L1109.5 539.6L1117 540.1L1124.5 539.6L1132 538.5L1139.5 537.7L1147 535.6L1154.5 533.2L1162 532.7L1169.5 535L1177 544.4L1184.5 542.8L1192 544.1L1199.5 547.8L1207 548.2L1214.5 546.7L1222 540.3L1229.5 541.9L1237 543.4L1244.5 548.1L1252 551L1259.5 553.4L1267 560.1L1274.5 561.4L1282 564.1L1289.5 565.6L1297 562.3L1304.5 562.3L1312 565.3L1319.5 562.3L1327 554.7L1334.5 539.4L1342 540.5L1346 545.8L1346 570.5L1342 571.3L1334.5 568.7L1327 568.2L1319.5 566.8L1312 565.1L1304.5 567.9L1297 568.6L1289.5 571.8L1282 572L1274.5 573.7L1267 573L1259.5 572.7L1252 571.5L1244.5 569.8L1237 568L1229.5 568.3L1222 565.6L1214.5 565.4L1207 562.6L1199.5 561.9L1192 564.8L1184.5 565.5L1177 564.6L1169.5 569.2L1162 567L1154.5 562.4L1147 562.8L1139.5 565.6L1132 565.6L1124.5 562.9L1117 559L1109.5 562.7L1102 560.9L1094.5 562.4L1087 564L1079.5 562.4L1072 560.9L1064.5 562.3L1057 561.9L1049.5 559.4L1042 556.5L1034.5 554.2L1027 555.6L1019.5 553.1L1012 554.8L1004.5 558.4L997 558.1L989.5 559L982 565.6L974.5 572.8L967 565.1L959.5 558.1L952 553.5L944.5 551.9L937 552.7L929.5 555L922 555.1L914.5 553.9L907 555.5L899.5 554.8L892 557.6L884.5 560.1L877 557.3L869.5 550.1L862 550L854.5 547.5L847 551.9L839.5 557.2L832 556.8L824.5 555.7L817 557L809.5 566.3L802 578L794.5 579.1L787 576L779.5 571.5L772 574.5L764.5 571.2L757 569.5L749.5 568.5L742 568.3L734.5 565.6L727 559.1L719.5 558.2L712 557.5L704.5 553.9L697 552.1L689.5 552.2L682 554L674.5 557.1L667 557.4L659.5 557.9L652 563.9L644.5 567.3L637 577.2L629.5 587.5L622 586.1L614.5 584.9L607 586.1L599.5 594L592 599.6L584.5 615.6L577 614L569.5 609.5L562 604.2L554.5 602.4L547 603.9L539.5 600.6L532 597L524.5 590.7L517 587.5L509.5 588.4L502 591.6L494.5 594.4L487 591.4L479.5 592.3L472 594.8L464.5 596.3L457 597.9L449.5 601.4L442 608.1L434.5 623.5L427 638.9L419.5 652.5L412 651L404.5 657.7L397 659.2L389.5 657.8L382 665.8L374.5 652.5L367 654.9L359.5 678.1L352 667.9L344.5 657.5L337 666L329.5 666.1L322 669.3L314.5 673.2L307 667.4L299.5 662.8L292 660.5L284.5 665L277 654.5L269.5 638.8L262 666.8L254.5 671.3L247 673.3L239.5 670L232 664.8L224.5 662.4L217 658.7L209.5 643.6L202 626.8L194.5 614.8L187 613.5L179.5 616.4L172 616.9L164.5 611.3L157 587.2L149.5 584.7L142 585.8L134.5 586.9L127 641.6L119.5 717.3L112 721Z" fill="#ff00ff" stroke="#ff00ff" stroke-width="11" stroke-linecap="round" stroke-linejoin="round" stroke-dasharray="0 7.5"/>
<line x1="280.8" y1="536" x2="280.8" y2="700" stroke="#ff00ff" stroke-width="11" stroke-linecap="round"/>
<line x1="1137.1" y1="488" x2="1137.1" y2="611" stroke="#ff00ff" stroke-width="11" stroke-linecap="round"/>
<line x1="1078" y1="520" x2="1078" y2="535" stroke="#ff00ff" stroke-width="11" stroke-linecap="round"/>
<g fill="#ff00ff"><circle cx="572.7" cy="667.4" r="5.6"/><circle cx="1167.6" cy="592" r="5.6"/><circle cx="973.9" cy="585" r="5.6"/><circle cx="280.8" cy="513" r="5.6"/><circle cx="276" cy="690" r="5.6"/></g>
<path d="M152 958.8L159.5 973.3L167 980.3L174.5 995.7L182 1003.8L189.5 1012.3L197 1014.2L204.5 1035.4L212 1064.6L219.5 1074.6L227 1071.2L234.5 1067.9L242 1055.2L249.5 1035.9L257 1013.4L264.5 986L272 978.1L279.5 980.1L287 986.5L294.5 990.8L302 991.6L309.5 984.8L317 981.7L324.5 978.2L332 975.5L339.5 966L347 965.4L354.5 982.5L362 990.7L369.5 986.4L377 984.3L384.5 976.5L392 985.2L399.5 981.2L407 979.1L414.5 983.7L422 980L429.5 985.2L437 997.8L444.5 1002.4L452 1001L459.5 1001.1L467 1004.4L474.5 1007.2L482 1009.2L489.5 1010.8L497 1017.8L504.5 1020.9L512 1023L519.5 1025.8L527 1018.7L534.5 1018.5L542 1013.2L549.5 1017.4L557 1025.9L564.5 1032.6L572 1039.7L579.5 1035.9L587 1033.1L594.5 1036.4L602 1040L609.5 1032.6L617 1028L624.5 1037.7L632 1044.1L639.5 1048.4L647 1054.4L654.5 1053L662 1056.7L669.5 1057.5L677 1056.6L684.5 1055.1L692 1056.6L699.5 1057.5L707 1058.2L714.5 1060.5L722 1061.1L729.5 1019.5L737 1016.9L744.5 1020.3L752 1026.4L759.5 1042.6L767 1020.7L774.5 1011.5L782 1017.2L789.5 1020.4L797 1024.3L804.5 1025.7L812 1024.3L819.5 1023.2L827 1018.8L834.5 1016.4L842 1010.3L849.5 1004.7L857 999.9L864.5 998.4L872 990.6L879.5 985.8L887 984.7L894.5 987.4L902 986.3L909.5 987.7L917 989.6L924.5 990.3L932 989L939.5 988.8L947 985.3L954.5 973.5L962 951.4L969.5 936.8L977 937.8L984.5 943.2L992 967.5L999.5 972.5L1007 982.1L1014.5 984.9L1022 984.8L1029.5 981L1037 974.3L1044.5 981.8L1052 975.5L1059.5 979L1067 985.4L1074.5 986.7L1082 987.8L1089.5 988.5L1097 991.5L1104.5 992.6L1112 993.6L1119.5 996.2L1127 996.2L1134.5 1029.7L1142 1029.4L1149.5 1029.7L1157 1025.1L1164.5 1019.5L1172 1014.3L1179.5 1012.5L1187 1010.5L1194.5 1007.5L1202 1004L1209.5 997.9L1217 995.3L1224.5 995L1232 990.1L1239.5 991.6L1247 985.7L1254.5 974.9L1262 971L1269.5 972L1277 969.6L1284.5 967.1L1292 951.8L1299.5 957.2L1307 965.8L1314.5 982.2L1322 982.3L1329.5 981.4L1337 979.1L1344 980L1341 979.8L1338.5 979.8L1331 983.2L1323.5 986.9L1316 985.5L1308.5 987L1301 986.7L1293.5 986.1L1286 984.8L1278.5 983.9L1271 990.7L1263.5 994.1L1256 999.1L1248.5 1006.8L1241 1012.9L1233.5 1017.7L1226 1025.8L1218.5 1024.3L1211 1021.9L1203.5 1018.9L1196 1024.1L1188.5 1030.8L1181 1030L1173.5 1035.9L1166 1042L1158.5 1045.5L1151 1048.8L1143.5 1051.9L1136 1054.4L1128.5 1053.3L1121 1055.6L1113.5 1055.7L1106 1056.3L1098.5 1056.2L1091 1054.3L1083.5 1050.2L1076 1051.5L1068.5 1047.3L1061 1046.9L1053.5 1045.2L1046 1045.1L1038.5 1046.3L1031 1045.8L1023.5 1046.3L1016 1047.9L1008.5 1048.6L1001 1053.6L993.5 1044.5L986 1040.9L978.5 1039.5L971 1029.8L963.5 1016.5L956 1015.2L948.5 1014.1L941 1019.2L933.5 1012.7L926 1016L918.5 1011.9L911 1008L903.5 1002.4L896 1002.4L888.5 1000.9L881 998.3L873.5 1004.5L866 1004.4L858.5 1008.4L851 1012.5L843.5 1020.2L836 1023.9L828.5 1027.3L821 1030.4L813.5 1037.5L806 1042.3L798.5 1045.6L791 1050.2L783.5 1051.6L776 1056.9L768.5 1058.5L761 1062.4L753.5 1065.2L746 1064.1L738.5 1065L731 1069.3L723.5 1066L716 1069L708.5 1070.5L701 1069L693.5 1071.1L686 1073.2L678.5 1080.1L671 1081.6L663.5 1082.6L656 1078.3L648.5 1070.3L641 1054.3L633.5 1055.8L626 1057.6L618.5 1057.9L611 1060L603.5 1064.6L596 1070.3L588.5 1081L581 1082.1L573.5 1073.7L566 1064.1L558.5 1059.8L551 1055L543.5 1048.1L536 1042.5L528.5 1038.6L521 1040.3L513.5 1043.6L506 1046L498.5 1047.6L491 1042.7L483.5 1038.1L476 1036.3L468.5 1035.2L461 1044.5L453.5 1063.8L446 1068.4L438.5 1069.1L431 1075.1L423.5 1072.1L416 1064.8L408.5 1050.4L401 1035.6L393.5 1022.5L386 1018.9L378.5 1013.5L371 1009.6L363.5 1006.7L356 1001.4L348.5 995.3L341 992.7L333.5 996.2L326 1012.3L318.5 1060.2L311 1090.5L303.5 1090.4L296 1091L288.5 1094.2L281 1091.6L273.5 1045.6L266 1118.7L258.5 1123.7L251 1123.4L243.5 1123.1L236 1123.9L228.5 1122.4L221 1119.9L213.5 1119.6L206 1121.9L198.5 1123.7L191 1122.2L183.5 1123L176 1120.7L168.5 1122.2L161 1121.7L153.5 1077.8L146 1025.9Z" fill="#0000ff" stroke="#0000ff" stroke-width="11" stroke-linecap="round" stroke-linejoin="round" stroke-dasharray="0 7.5"/>
<path d="M122 982L136.4 982L136.4 1031.6L122 1031.6Z" fill="#0000ff" stroke="#0000ff" stroke-width="2" stroke-linejoin="round"/>
<line x1="125" y1="990" x2="125" y2="1122" stroke="#0000ff" stroke-width="12" stroke-linecap="round"/>
<line x1="1137.5" y1="1058" x2="1137.5" y2="1107" stroke="#0000ff" stroke-width="11" stroke-linecap="round"/>
<line x1="1078" y1="945.5" x2="1078" y2="1000" stroke="#0000ff" stroke-width="11" stroke-linecap="round"/>
<line x1="1136" y1="962" x2="1136" y2="975" stroke="#0000ff" stroke-width="11" stroke-linecap="round"/>
<g fill="#0000ff"><circle cx="1137.8" cy="1127.5" r="5.6"/><circle cx="210.5" cy="967" r="5.6"/><circle cx="210.5" cy="976" r="5.6"/><circle cx="826.7" cy="1042.2" r="5.6"/><circle cx="572.7" cy="1107.5" r="5.6"/><circle cx="981" cy="1092" r="5.6"/></g>
<path d="M145 950.9L152.5 955L160 968.4L167.5 979.7L175 993.9L182.5 1002.4L190 1011.9L197.5 1012.8L205 1033.8L212.5 1061.8L220 1071.2L227.5 1066.7L235 1064.6L242.5 1050.8L250 1034.7L257.5 1007.3L265 983.2L272.5 974.6L280 975.5L287.5 983.1L295 987.6L302.5 987.9L310 983.5L317.5 980.3L325 973.1L332.5 972.7L340 975.6L347.5 979.5L355 986.3L362.5 985.9L370 985.7L377.5 982.5L385 975.6L392.5 981.8L400 979L407.5 975.5L415 980.7L422.5 977L430 985.2L437.5 994.1L445 999.9L452.5 999.3L460 998.5L467.5 1001.8L475 1005.9L482.5 1004.4L490 1008.4L497.5 1013.4L505 1017.4L512.5 1019.2L520 1018.7L527.5 1014.5L535 1015.1L542.5 1009.1L550 1017.2L557.5 1026.7L565 1031.4L572.5 1034.2L580 1030.9L587.5 1029L595 1036.9L602.5 1034.9L610 1031.1L617.5 1025.5L625 1034.8L632.5 1038.2L640 1044.5L647.5 1050.9L655 1037.2L662.5 1037L670 1034.9L677.5 1035.8L685 1038.9L692.5 1048.9L700 1053.7L707.5 1058.1L715 1056.4L722.5 1059.8L730 1057.2L737.5 1054.2L745 1052.7L752.5 1049.2L760 1037L767.5 1014.6L775 1010L782.5 1012.9L790 1018.9L797.5 1007.9L805 1008.8L812.5 1011L820 1009.5L827.5 1013.6L835 1012.8L842.5 1008L850 1002.2L857.5 999.3L865 992.7L872.5 990.9L880 982.6L887.5 982.8L895 983.7L902.5 986.3L910 986.7L917.5 986.8L925 988.2L932.5 984.6L940 984.3L947.5 983.6L955 967.1L962.5 945.3L970 936.6L977.5 933.2L985 941.7L992.5 963.6L1000 972.2L1007.5 980.1L1015 980.1L1022.5 979.4L1030 982.9L1037.5 989.6L1045 1004L1052.5 1010.2L1060 1015.4L1067.5 1014.6L1075 1001.2L1082.5 1005.3L1090 1025.3L1097.5 1029.5L1105 1028.3L1112.5 1028.8L1120 1028L1127.5 1029.5L1135 1030.3L1142.5 1028.5L1150 1027.8L1157.5 1019.8L1165 1017.5L1172.5 1012L1180 1006.2L1187.5 1004.9L1195 1003.7L1202.5 997.7L1210 996.4L1217.5 992.9L1225 990.9L1232.5 990L1240 988.5L1247.5 980.1L1255 971L1262.5 970.8L1270 969.8L1277.5 966.9L1285 966.5L1292.5 969.2L1300 972.2L1307.5 975.4L1315 980.1L1322.5 976L1330 976.1L1337.5 974.5L1345 977.9L1341 991.4L1340 994.6L1332.5 1001.1L1325 984L1317.5 983.3L1310 987.2L1302.5 992.1L1295 990.7L1287.5 986.6L1280 982.7L1272.5 979.6L1265 982.5L1257.5 987.3L1250 993.2L1242.5 998.9L1235 1009.7L1227.5 1020.1L1220 1021.3L1212.5 1018.9L1205 1014.4L1197.5 1011.9L1190 1026.6L1182.5 1021.9L1175 1023.6L1167.5 1033.4L1160 1035.3L1152.5 1036.3L1145 1054.8L1137.5 1055.1L1130 1064.9L1122.5 1060.5L1115 1054.2L1107.5 1055L1100 1052.2L1092.5 1051.6L1085 1052.5L1077.5 1047.1L1070 1042.5L1062.5 1054.8L1055 1061.2L1047.5 1046.7L1040 1032.9L1032.5 1023.7L1025 1028.3L1017.5 1031L1010 1049.3L1002.5 1058.5L995 1050.5L987.5 1039L980 1040.8L972.5 1033.3L965 1010.8L957.5 1000.3L950 1004.3L942.5 1004.8L935 1008L927.5 1008.5L920 1007.3L912.5 1006.6L905 1003.1L897.5 1001.6L890 999.9L882.5 1001.2L875 1003.2L867.5 1002.1L860 1007.7L852.5 1013.6L845 1016.9L837.5 1019.5L830 1023.1L822.5 1028L815 1035.9L807.5 1037.4L800 1042.5L792.5 1060.7L785 1061.4L777.5 1061.6L770 1060.1L762.5 1065.1L755 1068.9L747.5 1070.6L740 1067.2L732.5 1070L725 1067.7L717.5 1065.9L710 1066.5L702.5 1066L695 1064.6L687.5 1066.6L680 1066.5L672.5 1063.6L665 1064L657.5 1064.4L650 1060.8L642.5 1057.8L635 1054.2L627.5 1052.7L620 1056.6L612.5 1060.7L605 1059.5L597.5 1058L590 1085.9L582.5 1084.2L575 1079L567.5 1072.5L560 1056.2L552.5 1054.2L545 1050.4L537.5 1047.9L530 1041.5L522.5 1039.8L515 1038.6L507.5 1037L500 1034.2L492.5 1036.4L485 1033.8L477.5 1030.7L470 1026.1L462.5 1022.7L455 1020.1L447.5 1018L440 1016.4L432.5 1017.1L425 1022.2L417.5 1037.6L410 1025.3L402.5 1017.2L395 1008.9L387.5 1015L380 1013.5L372.5 1000.6L365 1013.9L357.5 1012.9L350 1015.6L342.5 1007.6L335 995.8L327.5 994L320 1027.3L312.5 1058.6L305 1064.9L297.5 1061.4L290 1059.1L282.5 1053.2L275 1044.4L267.5 1049.2L260 1080.9L252.5 1093.4L245 1110.9L237.5 1126.7L230 1123.9L222.5 1127.3L215 1125.2L207.5 1126.4L200 1058.6L192.5 1056.8L185 1062.2L177.5 1073.7L170 1084.6L162.5 1068.1L155 1049.3L147.5 1024.1L140 983.6Z" fill="#ff0000" stroke="#ff0000" stroke-width="11" stroke-linecap="round" stroke-linejoin="round" stroke-dasharray="0 7.5"/>
<path d="M128 969L140 969L146.6 985L146.6 1018.5L130 1018.5Z" fill="#ff0000" stroke="#ff0000" stroke-width="2" stroke-linejoin="round"/>
<line x1="974.5" y1="900" x2="974.5" y2="910" stroke="#ff0000" stroke-width="11" stroke-linecap="round"/>
<line x1="984" y1="896" x2="984" y2="906" stroke="#ff0000" stroke-width="11" stroke-linecap="round"/>
<line x1="1001" y1="925" x2="1001" y2="933" stroke="#ff0000" stroke-width="11" stroke-linecap="round"/>
<g fill="#ff0000"><circle cx="152.7" cy="1046" r="5.6"/><circle cx="572.7" cy="1110" r="5.6"/><circle cx="981" cy="1090" r="5.6"/><circle cx="974" cy="1056" r="5.6"/><circle cx="1004" cy="1076" r="5.6"/></g>
<path d="M112 851.4L119.5 846.6L127 859.5L134.5 899.2L142 921.5L149.5 934.5L157 945.2L164.5 956.4L172 970.9L179.5 981.7L187 996.8L194.5 1005.6L202 1018.3L209.5 1045.4L217 1058.1L224.5 1054.5L232 1056L239.5 1049.3L247 1034.5L254.5 1017.2L262 997.1L269.5 983.1L277 975.2L284.5 975.3L292 978.9L299.5 981.4L307 980.2L314.5 976.6L322 971.5L329.5 969.2L337 967.9L344.5 972.9L352 977.1L359.5 980.2L367 979.9L374.5 979.3L382 975.9L389.5 977.6L397 981.3L404.5 980.1L412 981.4L419.5 983.6L427 984L434.5 984.7L442 991.1L449.5 993.3L457 995.7L464.5 997L472 998.8L479.5 1003.5L487 1005.3L494.5 1008.9L502 1009.3L509.5 1009.8L517 1010.4L524.5 1009.8L532 1007.2L539.5 1003.6L547 1004.3L554.5 1010.1L562 1012.9L569.5 1016.1L577 1015.1L584.5 1011L592 1002.8L599.5 1007.5L607 1001.1L614.5 983L622 987.7L629.5 982.6L637 982.4L644.5 997.1L652 1003.4L659.5 1012L667 1016.3L674.5 1017.6L682 1022.9L689.5 1024.2L697 1028.1L704.5 1032.7L712 1033.5L719.5 1031.3L727 1032L734.5 1029L742 1027.5L749.5 1025.9L757 1013.7L764.5 980.3L772 953.4L779.5 952.8L787 960.5L794.5 966.1L802 969.2L809.5 977.3L817 981.9L824.5 986.5L832 986.3L839.5 972.4L847 962L854.5 954.4L862 952.1L869.5 956.5L877 949.5L884.5 951.7L892 957.6L899.5 954.8L907 955.2L914.5 952.8L922 953.3L929.5 955L937 959.9L944.5 966.2L952 959.2L959.5 943.3L967 929.8L974.5 921.6L982 926L989.5 951L997 957.1L1004.5 965.3L1012 971.9L1019.5 972.8L1027 973.7L1034.5 973.8L1042 989.2L1049.5 996.7L1057 1000.8L1064.5 1005.4L1072 1003.4L1079.5 998.4L1087 1006.3L1094.5 1003.8L1102 1003.4L1109.5 1002.6L1117 1002.5L1124.5 1002L1132 1000.3L1139.5 998.6L1147 1000.4L1154.5 996.4L1162 986.9L1169.5 980.3L1177 973.5L1184.5 970L1192 968.5L1199.5 964.6L1207 963.3L1214.5 959.2L1222 956.1L1229.5 954.4L1237 954.8L1244.5 955.8L1252 948.5L1259.5 946.9L1267 946.3L1274.5 950.2L1282 951.4L1289.5 953.2L1297 960.7L1304.5 966.1L1312 969.1L1319.5 970.2L1327 969.3L1334.5 969.3L1341 970.1L1344 969.3L1342 974L1334.5 1007.5L1327 1007.5L1319.5 970.2L1312 969.1L1304.5 967.1L1297 961.6L1289.5 957L1282 955.3L1274.5 958.1L1267 958.3L1259.5 961.9L1252 964.3L1244.5 974.6L1237 975.9L1229.5 979.6L1222 982.2L1214.5 981.8L1207 986.4L1199.5 990.6L1192 995.8L1184.5 994.9L1177 1000.8L1169.5 1005.3L1162 1006.8L1154.5 1013.5L1147 1017.1L1139.5 1016.5L1132 1018.5L1124.5 1016.8L1117 1019.1L1109.5 1017.9L1102 1016.2L1094.5 1016.4L1087 1006.4L1079.5 998.4L1072 1003.4L1064.5 1006.7L1057 1000.5L1049.5 997.5L1042 989.7L1034.5 978.1L1027 973.7L1019.5 972.8L1012 971.9L1004.5 967.2L997 957.9L989.5 951L982 927.5L974.5 923L967 929.8L959.5 944.5L952 966L944.5 972.9L937 973.7L929.5 975.4L922 973.1L914.5 965.6L907 958L899.5 957.3L892 955.9L884.5 963.5L877 971.7L869.5 980.8L862 984L854.5 987.8L847 993.5L839.5 998.9L832 1001.7L824.5 1008.2L817 1010.4L809.5 1011.1L802 1009.7L794.5 1009.8L787 1006.8L779.5 1000.3L772 996.3L764.5 1016.3L757 1030.9L749.5 1040.8L742 1042.6L734.5 1045.2L727 1048.9L719.5 1050.6L712 1049.2L704.5 1045L697 1043.4L689.5 1040L682 1041L674.5 1042.7L667 1042.4L659.5 1031.7L652 1019L644.5 1010.5L637 1000.3L629.5 1001L622 1020.9L614.5 1016.7L607 1022.2L599.5 1025.6L592 1022.5L584.5 1017.8L577 1024.6L569.5 1022.9L562 1020.2L554.5 1010.7L547 1004.3L539.5 1003.6L532 1041.2L524.5 1040.9L517 1038.2L509.5 1030.1L502 1026.2L494.5 1023.7L487 1021.5L479.5 1024.2L472 1022.9L464.5 1020.4L457 1020.2L449.5 1019.4L442 1020.1L434.5 1026.9L427 1036.3L419.5 1052L412 1058.6L404.5 1032L397 1021.2L389.5 1023.3L382 1020.7L374.5 1002L367 1025.6L359.5 1023.3L352 1017.2L344.5 1008.8L337 995.9L329.5 992.6L322 1029.5L314.5 1051.8L307 1044.6L299.5 1028.3L292 978.9L284.5 975.3L277 975.2L269.5 983.1L262 997.1L254.5 1017.2L247 1034.5L239.5 1049.3L232 1058.1L224.5 1058.4L217 1064.5L209.5 1045.4L202 1018.3L194.5 1005.6L187 998.4L179.5 987.1L172 980.2L164.5 964.3L157 953.9L149.5 942.5L142 940.2L134.5 929.7L127 899.2L119.5 872.7L112 982.6Z" fill="#00ff00" stroke="#00ff00" stroke-width="11" stroke-linecap="round" stroke-linejoin="round" stroke-dasharray="0 7.5"/>
<path d="M104 985L115 985L115 1023L104 1023Z" fill="#00ff00" stroke="#00ff00" stroke-width="2" stroke-linejoin="round"/>
<line x1="974.5" y1="882" x2="974.5" y2="915" stroke="#00ff00" stroke-width="11" stroke-linecap="round"/>
<line x1="984" y1="889" x2="984" y2="900" stroke="#00ff00" stroke-width="11" stroke-linecap="round"/>
<g fill="#00ff00"><circle cx="125" cy="840" r="5.6"/><circle cx="311" cy="845" r="5.6"/><circle cx="311" cy="852" r="5.6"/><circle cx="311" cy="860" r="5.6"/><circle cx="311" cy="883" r="5.6"/><circle cx="316" cy="900" r="5.6"/><circle cx="316" cy="910" r="5.6"/><circle cx="316" cy="918" r="5.6"/><circle cx="312.5" cy="848" r="5.6"/><circle cx="312.5" cy="858" r="5.6"/><circle cx="317.5" cy="898" r="5.6"/><circle cx="317.5" cy="913" r="5.6"/><circle cx="430" cy="925.5" r="5.6"/><circle cx="430" cy="933" r="5.6"/><circle cx="526" cy="923" r="5.6"/><circle cx="526" cy="935" r="5.6"/><circle cx="526" cy="948" r="5.6"/><circle cx="527.5" cy="923" r="5.6"/><circle cx="532.6" cy="935" r="5.6"/><circle cx="528" cy="948" r="5.6"/><circle cx="538.8" cy="930" r="5.6"/><circle cx="538.8" cy="948" r="5.6"/><circle cx="545" cy="898" r="5.6"/><circle cx="545" cy="910" r="5.6"/><circle cx="545" cy="920" r="5.6"/><circle cx="545" cy="930" r="5.6"/><circle cx="545" cy="943" r="5.6"/><circle cx="539" cy="1084" r="5.6"/><circle cx="539" cy="1095" r="5.6"/><circle cx="547.6" cy="1096" r="5.6"/><circle cx="547.6" cy="1110" r="5.6"/><circle cx="547.6" cy="1126" r="5.6"/><circle cx="572.7" cy="1098.7" r="5.6"/><circle cx="1000.8" cy="1116.5" r="5.6"/><circle cx="620" cy="1061" r="5.6"/><circle cx="623" cy="1076" r="5.6"/><circle cx="663" cy="1076" r="5.6"/><circle cx="663" cy="1088" r="5.6"/><circle cx="663" cy="1101" r="5.6"/><circle cx="693" cy="1078" r="5.6"/><circle cx="697" cy="1086" r="5.6"/><circle cx="701" cy="1094" r="5.6"/><circle cx="713.4" cy="1083.7" r="5.6"/><circle cx="1078" cy="973" r="5.6"/></g>
<path d="M104 838.4L111.5 838.1L119 878.5L126.5 903.3L134 933.9L141.5 941.4L149 947.7L156.5 957.7L164 967.1L171.5 983.6L179 992.1L186.5 1002.5L194 1009.2L201.5 1012.4L209 1042.7L216.5 1069.5L224 1062.5L231.5 1062.8L239 1051.9L246.5 1036L254 1016.2L261.5 987.6L269 971.6L276.5 970L284 976.2L291.5 983.2L299 984.4L306.5 980.9L314 978.3L321.5 974.4L329 967L336.5 970.8L344 972.1L351.5 978L359 980.2L366.5 980.3L374 979.3L381.5 976.5L389 973.4L396.5 979.1L404 969.1L411.5 975L419 976.3L426.5 974.8L434 984.8L441.5 991.1L449 995L456.5 993.8L464 995.5L471.5 997.4L479 1001L486.5 1002.3L494 1005.3L501.5 1009.4L509 1012.8L516.5 1014.4L524 1013.5L531.5 1009.2L539 1005.5L546.5 1004.3L554 1016.8L561.5 1024.3L569 1029L576.5 1031.4L584 1021.8L591.5 1027.4L599 1030.8L606.5 1028.7L614 1019.8L621.5 1024.7L629 1032.1L636.5 1037L644 1041.8L651.5 1046.3L659 1047.9L666.5 1049.6L674 1047.9L681.5 1048.4L689 1047.2L696.5 1050.3L704 1052L711.5 1054L719 1053.9L726.5 1052.7L734 1049L741.5 1049.6L749 1045.9L756.5 1037L764 1021.5L771.5 1001.9L779 1005.6L786.5 1012.1L794 1012.4L801.5 1015.7L809 1015.6L816.5 1015.7L824 1013.4L831.5 1010L839 1006.1L846.5 997.9L854 993.7L861.5 991.2L869 987.8L876.5 980.1L884 975.6L891.5 981.1L899 979.7L906.5 979.2L914 982.6L921.5 980.3L929 982.7L936.5 981.3L944 980.3L951.5 973.6L959 950.8L966.5 934L974 926.9L981.5 929.1L989 953.6L996.5 962.4L1004 969.9L1011.5 975.1L1019 974.2L1026.5 977.7L1034 979.7L1041.5 993.9L1049 1002.5L1056.5 1008.2L1064 1008.7L1071.5 1007.9L1079 993.9L1086.5 1009.5L1094 1020.3L1101.5 1023.1L1109 1025.6L1116.5 1023.3L1124 1021.8L1131.5 1025L1139 1022.2L1146.5 1021.5L1154 1022L1161.5 1013.4L1169 1010.3L1176.5 1005.8L1184 999.8L1191.5 999.8L1199 996.8L1206.5 992.2L1214 989.6L1221.5 987.1L1229 984.3L1236.5 984L1244 980.8L1251.5 970L1259 965.9L1266.5 965.9L1274 963.8L1281.5 963.9L1289 959.7L1296.5 964.7L1304 970.7L1311.5 973.2L1319 972.1L1326.5 970.9L1334 972.7L1341.5 971.3L1346 972.3L1346 979.9L1341.5 983.7L1334 999.9L1326.5 984.2L1319 981.3L1311.5 978.8L1304 988.2L1296.5 987.9L1289 980.2L1281.5 976L1274 978.1L1266.5 978.4L1259 980.5L1251.5 985.2L1244 991.6L1236.5 1000.2L1229 1010.7L1221.5 1014.9L1214 1014.3L1206.5 1009.6L1199 1008.1L1191.5 1010.3L1184 1014.9L1176.5 1018.3L1169 1024.1L1161.5 1026.6L1154 1029.7L1146.5 1046.1L1139 1050.8L1131.5 1057.6L1124 1061.3L1116.5 1050.8L1109 1051.6L1101.5 1052.6L1094 1050.9L1086.5 1049.7L1079 1045.2L1071.5 1037.3L1064 1042.8L1056.5 1052.8L1049 1045.5L1041.5 1031.8L1034 1018.3L1026.5 1021.8L1019 1026.4L1011.5 1040.4L1004 1054.2L996.5 1045.8L989 1030.7L981.5 1033L974 1029.4L966.5 1008.6L959 998.2L951.5 996.5L944 996.9L936.5 1002.1L929 998.4L921.5 999.6L914 996.1L906.5 996.6L899 992.3L891.5 995.4L884 995.5L876.5 995.6L869 997.7L861.5 1003L854 1011.8L846.5 1011.9L839 1015L831.5 1021.2L824 1025.2L816.5 1028.7L809 1035.1L801.5 1040.2L794 1053.2L786.5 1057.5L779 1059.1L771.5 1059.1L764 1074.3L756.5 1071.9L749 1069.5L741.5 1067.8L734 1065.4L726.5 1066.9L719 1066.2L711.5 1061.8L704 1062.9L696.5 1061.8L689 1063.4L681.5 1062L674 1059.9L666.5 1060.8L659 1058.4L651.5 1057.9L644 1053.2L636.5 1049.2L629 1049.7L621.5 1052.5L614 1054L606.5 1058.3L599 1051.7L591.5 1083L584 1079.2L576.5 1076.5L569 1068.3L561.5 1057.8L554 1050.5L546.5 1046.6L539 1043.2L531.5 1037.4L524 1035.3L516.5 1034.1L509 1028.6L501.5 1029.9L494 1024.9L486.5 1022.5L479 1018.6L471.5 1016.5L464 1019.3L456.5 1018.3L449 1015.7L441.5 1012.7L434 1008.5L426.5 1014.1L419 1031L411.5 1023.3L404 1012.4L396.5 1004.5L389 1009.7L381.5 1011.4L374 996.1L366.5 1012.1L359 1008.7L351.5 1010.2L344 999.5L336.5 986.8L329 987.1L321.5 1003.7L314 1047.9L306.5 1059L299 1059.2L291.5 1056.6L284 1054.5L276.5 1043.8L269 1024.4L261.5 1066L254 1076.9L246.5 1099.6L239 1116.1L231.5 1121.3L224 1119.4L216.5 1113.3L209 1109.8L201.5 1042.1L194 1044.1L186.5 1051.6L179 1061.4L171.5 1068.7L164 1067.7L156.5 1041.2L149 1015.3L141.5 980.5L134 967.5L126.5 956.9L119 956.7L111.5 986.4L104 982.5Z" fill="#ff00ff" stroke="#ff00ff" stroke-width="11" stroke-linecap="round" stroke-linejoin="round" stroke-dasharray="0 7.5"/>
<line x1="280.8" y1="936" x2="280.8" y2="985" stroke="#ff00ff" stroke-width="11" stroke-linecap="round"/>
<line x1="761.4" y1="1060" x2="761.4" y2="1092" stroke="#ff00ff" stroke-width="11" stroke-linecap="round"/>
<line x1="1001" y1="889" x2="1001" y2="1060" stroke="#ff00ff" stroke-width="11" stroke-linecap="round"/>
<line x1="982" y1="1000" x2="982" y2="1080" stroke="#ff00ff" stroke-width="11" stroke-linecap="round"/>
<line x1="974.5" y1="900" x2="974.5" y2="925" stroke="#ff00ff" stroke-width="11" stroke-linecap="round"/>
<line x1="984" y1="896" x2="984" y2="925" stroke="#ff00ff" stroke-width="11" stroke-linecap="round"/>
<line x1="970" y1="1030" x2="970" y2="1049" stroke="#ff00ff" stroke-width="11" stroke-linecap="round"/>
<line x1="1008" y1="1040" x2="1008" y2="1068" stroke="#ff00ff" stroke-width="11" stroke-linecap="round"/>
<g fill="#ff00ff"><circle cx="572.7" cy="1113.8" r="5.6"/><circle cx="1000.8" cy="1122.8" r="5.6"/><circle cx="125" cy="898" r="5.6"/></g>
<line x1="104.4" y1="164.6" x2="1343.5" y2="164.6" stroke="#000" stroke-width="4.2" stroke-dasharray="11.5 11.45" stroke-dashoffset="11.5"/>
<rect x="104.4" y="18.0" width="1239.10" height="293.20" fill="none" stroke="#000" stroke-width="4.6"/>
<text text-anchor="end" transform="translate(96.60 180.90) scale(1 1.025)">0</text>
<text text-anchor="middle" transform="translate(34.00 164.60) rotate(-90) scale(1 1.025)">East [m]</text>
<line x1="104.4" y1="572.8" x2="1343.5" y2="572.8" stroke="#000" stroke-width="4.2" stroke-dasharray="11.5 11.45" stroke-dashoffset="11.5"/>
<rect x="104.4" y="426.0" width="1239.10" height="293.60" fill="none" stroke="#000" stroke-width="4.6"/>
<text text-anchor="end" transform="translate(96.60 589.10) scale(1 1.025)">0</text>
<text text-anchor="middle" transform="translate(34.00 572.80) rotate(-90) scale(1 1.025)">North [m]</text>
<line x1="104.4" y1="980.8" x2="1343.5" y2="980.8" stroke="#000" stroke-width="4.2" stroke-dasharray="11.5 11.45" stroke-dashoffset="11.5"/>
<rect x="104.4" y="834.1" width="1239.10" height="293.40" fill="none" stroke="#000" stroke-width="4.6"/>
<text text-anchor="end" transform="translate(96.60 1143.80) scale(1 1.025)">2</text>
<text text-anchor="end" transform="translate(96.60 997.10) scale(1 1.025)">0</text>
<text text-anchor="end" transform="translate(96.60 850.40) scale(1 1.025)">2</text>
<text text-anchor="middle" transform="translate(34.00 980.80) rotate(-90) scale(1 1.025)">Up [m]</text>
<text text-anchor="middle" transform="translate(104.40 1176.50) scale(1 1.025)">00:00</text>
<text text-anchor="middle" transform="translate(310.92 1176.50) scale(1 1.025)">02:00</text>
<text text-anchor="middle" transform="translate(517.43 1176.50) scale(1 1.025)">04:00</text>
<text text-anchor="middle" transform="translate(723.95 1176.50) scale(1 1.025)">06:00</text>
<text text-anchor="middle" transform="translate(930.47 1176.50) scale(1 1.025)">08:00</text>
<text transform="translate(1105.01 1176.50) scale(1 1.025)">0:00</text>
<text transform="translate(1311.53 1176.50) scale(1 1.025)">2:00</text>
<text text-anchor="middle" transform="translate(723.95 1224.80) scale(1 1.025)">GPS Time [HH:MM]</text>
<path d="M83.20 327.50L87.50 327.50L87.50 295.10L84.50 295.10Q81.00 299.50 75.30 303.20L75.90 306.60Q80.00 304.50 83.20 302.00ZM56.80 314.20H69.60V317.80H56.80ZM83.20 34.30L87.50 34.30L87.50 1.90L84.50 1.90Q81.00 6.30 75.30 10.00L75.90 13.40Q80.00 11.30 83.20 8.80ZM83.20 735.90L87.50 735.90L87.50 703.50L84.50 703.50Q81.00 707.90 75.30 711.60L75.90 715.00Q80.00 712.90 83.20 710.40ZM56.80 722.60H69.60V726.20H56.80ZM83.20 442.30L87.50 442.30L87.50 409.90L84.50 409.90Q81.00 414.30 75.30 418.00L75.90 421.40Q80.00 419.30 83.20 416.80ZM56.80 1130.50H69.60V1134.10H56.80ZM1092.40 1176.50L1096.70 1176.50L1096.70 1144.10L1093.70 1144.10Q1090.20 1148.50 1084.50 1152.20L1085.10 1155.60Q1089.20 1153.50 1092.40 1151.00ZM1298.90 1176.50L1303.20 1176.50L1303.20 1144.10L1300.20 1144.10Q1296.70 1148.50 1291.00 1152.20L1291.60 1155.60Q1295.70 1153.50 1298.90 1151.00Z" fill="#000"/>
<rect x="131.1" y="5.4" width="768.7" height="69.9" fill="#fff" stroke="#000" stroke-width="4.6"/>
<circle cx="190.9" cy="40.3" r="5.7" fill="#0000ff"/>
<text transform="translate(241.60 55.80) scale(1 1.025)">BR</text>
<circle cx="369.1" cy="40.3" r="5.7" fill="#ff0000"/>
<text transform="translate(419.80 55.80) scale(1 1.025)">GR</text>
<circle cx="552.2" cy="40.3" r="5.7" fill="#00ff00"/>
<text transform="translate(602.80 55.80) scale(1 1.025)">GB</text>
<circle cx="733.3" cy="40.3" r="5.7" fill="#ff00ff"/>
<text transform="translate(784.30 55.80) scale(1 1.025)">GBR</text>
</svg>
</body></html>
